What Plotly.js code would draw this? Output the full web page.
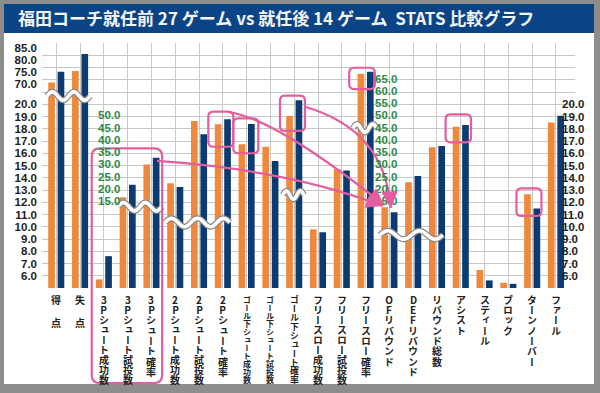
<!DOCTYPE html>
<html><head><meta charset="utf-8">
<script src="https://cdn.plot.ly/plotly-3.0.1.min.js"></script>
<style>
html,body{margin:0;padding:0;background:#fff;}
#frame{position:absolute;left:0;top:0;width:600px;height:393px;background:#8d8d8d;}
#inner{position:absolute;left:4px;top:4px;width:590px;height:380px;background:#fff;}
#tbar{position:absolute;left:4px;top:4px;width:590px;height:29px;background:#0b4484;}
#chart{position:absolute;left:0;top:0;width:600px;height:393px;}
</style></head><body>
<div id="frame"></div><div id="inner"></div><div id="tbar"></div>
<div id="chart"></div>
<script>
// ---- data ----
const categories = ['得点','失点','3Pシュート成功数','3Pシュート試投数','3Pシュート確率',
  '2Pシュート成功数','2Pシュート試投数','2Pシュート確率',
  'ゴール下シュート成功数','ゴール下シュート試投数','ゴール下シュート確率',
  'フリースロー成功数','フリースロー試投数','フリースロー確率',
  'OFリバウンド','DEFリバウンド','リバウンド総数','アシスト','スティール','ブロック','ターンノーバー','ファール'];
// which printed scale each category is read against
const scaleOf = ['upper','upper','main','green','green','main','main','main','main','main','main',
  'main','main','green','main','main','main','main','main','main','main','main'];
const beforeName = '就任前 27 ゲーム';
const afterName = '就任後 14 ゲーム';
const before = [70.7, 75.5, 5.7, 16.5, 29.9, 13.55, 18.63, 18.36, 16.73, 16.53, 19.04,
  9.79, 14.71, 66.9, 11.6, 13.63, 16.49, 18.17, 6.47, 5.43, 12.65, 18.52];
const after = [75.2, 82.6, 7.6, 21.6, 32.7, 13.25, 17.55, 18.77, 18.39, 15.37, 20.32,
  9.55, 14.6, 67.8, 11.18, 14.14, 16.59, 18.31, 5.62, 5.34, 11.5, 19.06];
const mainTicks = [6,7,8,9,10,11,12,13,14,15,16,17,18,19,20];
const upperTicks = [70,75,80,85];
const green1Ticks = [15,20,25,30,35,40,45,50];
const green2Ticks = [15,20,25,30,35,40,45,50,55,60,65];
const titleText = '福田コーチ就任前 27 ゲーム vs 就任後 14 ゲーム&nbsp;&nbsp;STATS 比較グラフ';

// ---- scales ----
function toAxis(v, s){
  if (s === 'upper') return 21.63 + (v - 70) * 0.196;
  if (s === 'green') return 12.1 + (v - 15) * 0.2;
  return v;
}
const X0 = -0.6, X1 = 21.8, Y0 = 5, Y1 = 25;
const px = x => (x - X0) / (X1 - X0);
const py = y => (y - Y0) / (Y1 - Y0);
const PW = 533, PH = 245;

const idx = categories.map((c, i) => i);
const ORANGE = '#f0883b', NAVY = '#0d3b71', PINK = '#e35d9f', GREEN = '#2f8a46';

const traces = [
  {type:'bar', name:beforeName, x:idx, y:before.map((v,i)=>toAxis(v,scaleOf[i])), marker:{color:ORANGE}, hoverinfo:'skip'},
  {type:'bar', name:afterName, x:idx, y:after.map((v,i)=>toAxis(v,scaleOf[i])), marker:{color:NAVY}, hoverinfo:'skip'},
  {type:'scatter', x:[], y:[], yaxis:'y2', showlegend:false},
  {type:'scatter', x:[], y:[], yaxis:'y3', showlegend:false}
];

const shapes = [];
const annotations = [];

// wavy break marks
const waves = [
  {x0:-0.39, x1:1.42, y:20.67, n:2},
  {x0:2.59, x1:4.44, y:11.64, n:2},
  {x0:4.57, x1:7.30, y:10.35, n:2.5},
  {x0:9.52, x1:10.41, y:12.59, n:1.5},
  {x0:12.47, x1:13.47, y:18.04, n:1.5},
  {x0:13.60, x1:16.25, y:9.33, n:2}
];
waves.forEach(w => {
  let d = '';
  const N = 60, amp = 4.2 / PH;
  for (let k = 0; k <= N; k++){
    const t = k / N;
    const xx = px(w.x0 + (w.x1 - w.x0) * t);
    const yy = py(w.y) + amp * Math.sin(2 * Math.PI * w.n * t);
    d += (k ? ' L ' : 'M ') + xx.toFixed(5) + ',' + yy.toFixed(5);
  }
  shapes.push({type:'path', xref:'paper', yref:'paper', path:d, line:{color:'#8a8a8a', width:6}, layer:'above'});
  shapes.push({type:'path', xref:'paper', yref:'paper', path:d, line:{color:'#ffffff', width:3.6}, layer:'above'});
});

// pink rounded boxes (data units)
function rrect(x0, y0, x1, y1, r){
  const a = px(x0), b = px(x1), c = py(y0), e = py(y1);
  const rx = r / PW, ry = r / PH;
  return `M ${a+rx},${e} L ${b-rx},${e} Q ${b},${e} ${b},${e-ry} L ${b},${c+ry} Q ${b},${c} ${b-rx},${c} L ${a+rx},${c} Q ${a},${c} ${a},${c+ry} L ${a},${e-ry} Q ${a},${e} ${a+rx},${e} Z`;
}
const boxes = [
  {x0:1.49, x1:4.45, y0:-2.76, y1:16.40, r:8},
  {x0:6.39, x1:7.44, y0:16.53, y1:19.39, r:5},
  {x0:7.44, x1:8.49, y0:16.0, y1:18.85, r:5},
  {x0:9.40, x1:10.45, y0:17.82, y1:20.70, r:5},
  {x0:12.31, x1:13.39, y0:21.24, y1:22.98, r:5},
  {x0:16.36, x1:17.43, y0:16.89, y1:19.18, r:5},
  {x0:19.34, x1:20.39, y0:10.88, y1:13.14, r:5}
];
boxes.forEach(b => shapes.push({type:'path', xref:'paper', yref:'paper', path:rrect(b.x0,b.y0,b.x1,b.y1,b.r), line:{color:PINK, width:2.2}, layer:'above'}));

// green secondary scale labels
green1Ticks.forEach(v => annotations.push({xref:'x', yref:'y', x:2.22, y:toAxis(v,'green'), text:v.toFixed(1), showarrow:false,
  font:{family:'Liberation Sans', size:11.5, color:GREEN, weight:'bold'}}));
green2Ticks.forEach(v => annotations.push({xref:'x', yref:'y', x:13.87, y:toAxis(v,'green'), text:v.toFixed(1), showarrow:false,
  font:{family:'Liberation Sans', size:11.5, color:GREEN, weight:'bold'}}));

// pink curved arrows
const arrows = [
  {p0:[4.23,15.37], c:[9.82,14.63], p2:[13.72,11.69]},
  {p0:[7.21,19.37], c:[9.19,18.88], p2:[13.77,11.78]},
  {p0:[10.45,19.80], c:[13.81,17.90], p2:[14.06,11.53]}
];
arrows.forEach(a => {
  shapes.push({type:'path', xref:'paper', yref:'paper', layer:'above',
    path:`M ${px(a.p0[0])},${py(a.p0[1])} Q ${px(a.c[0])},${py(a.c[1])} ${px(a.p2[0])},${py(a.p2[1])}`,
    line:{color:PINK, width:2.2}});
  const dx = (a.p2[0]-a.c[0]) * PW/(X1-X0), dy = -(a.p2[1]-a.c[1]) * PH/(Y1-Y0);
  const L = Math.hypot(dx, dy);
  annotations.push({xref:'x', yref:'y', x:a.p2[0], y:a.p2[1], axref:'pixel', ayref:'pixel',
    ax:-dx/L*12, ay:-dy/L*12, text:'', showarrow:true, arrowhead:2, arrowsize:1.5, arrowwidth:2.2, arrowcolor:PINK});
});

// category labels: one character per annotation, set upright-vertical after drawing
const vChar = {};
categories.forEach((c, i) => {
  const chars = Array.from(c);
  const n = chars.length;
  const step = n === 2 ? 23 : Math.min(10.3, 80 / (n - 1));
  const fs = Math.min(10, step);
  chars.forEach((ch, k) => {
    const center = 300 + k * step;          // page y of character centre
    vChar[annotations.length] = {top: center - fs / 2};
    annotations.push({xref:'x', yref:'paper', x:i, y:0, xanchor:'center', yanchor:'middle',
      yshift:-(center - 288), text:ch, showarrow:false, borderpad:0,
      font:{family:'Noto Sans CJK JP', size:fs, color:'#222', weight:'bold'}});
  });
});

const tickFont = {family:'Liberation Sans', size:11.5, color:'#1e1e1e', weight:'bold'};
const leftVals = mainTicks.map(v=>toAxis(v,'main')).concat(upperTicks.map(v=>toAxis(v,'upper')));
const leftText = mainTicks.map(v=>v.toFixed(1)).concat(upperTicks.map(v=>v.toFixed(1)));

const layout = {
  width:600, height:393, margin:{l:42, r:25, t:43, b:105, pad:0},
  paper_bgcolor:'rgba(0,0,0,0)', plot_bgcolor:'rgba(0,0,0,0)',
  barmode:'group', bargap:0.21, bargroupgap:0.29, showlegend:false,
  title:{text:titleText, x:0.03, xanchor:'left', xref:'container', y:1-19/393, yanchor:'middle', yref:'container',
    font:{family:'Noto Sans CJK JP', size:17, color:'#f2f5f9', weight:'bold'}},
  xaxis:{range:[X0,X1], tickvals:idx, showticklabels:false, showgrid:true, gridcolor:'#c8c8c8', gridwidth:1,
    zeroline:false, ticks:'', showline:false},
  yaxis:{range:[Y0,Y1], tick0:0, dtick:1, showgrid:true, gridcolor:'#c8c8c8', gridwidth:1, showticklabels:false,
    zeroline:false, ticks:'', showline:false},
  yaxis2:{overlaying:'y', side:'left', range:[Y0,Y1], tickvals:leftVals, ticktext:leftText, showgrid:false,
    zeroline:false, ticks:'', showline:false, tickfont:tickFont, ticklabelstandoff:4},
  yaxis3:{overlaying:'y', side:'right', range:[Y0,Y1], tickvals:mainTicks, ticktext:mainTicks.map(v=>v.toFixed(1)),
    showgrid:false, zeroline:false, ticks:'', showline:false, tickfont:tickFont, ticklabelstandoff:-14},
  shapes:shapes, annotations:annotations
};
Plotly.newPlot('chart', traces, layout, {staticPlot:true, displayModeBar:false}).then(gd => {
  // set each label character in upright vertical (tategaki) form
  gd.querySelectorAll('g.annotation').forEach(g => {
    const info = vChar[+g.getAttribute('data-index')];
    if (!info) return;
    const t = g.querySelector('text.annotation-text');
    if (!t) return;
    const bb = t.getBBox();
    const rc = t.getBoundingClientRect();
    const cx = bb.x + bb.width / 2;
    const y = bb.y + (info.top - rc.top);
    const txt = t.textContent;
    while (t.firstChild) t.removeChild(t.firstChild);
    t.textContent = txt;
    t.setAttribute('x', cx);
    t.setAttribute('y', y);
    t.setAttribute('text-anchor', 'start');
    t.style.textAnchor = 'start';
    t.style.writingMode = 'vertical-rl';
    t.style.textOrientation = 'upright';
  });
});
</script></body></html>
